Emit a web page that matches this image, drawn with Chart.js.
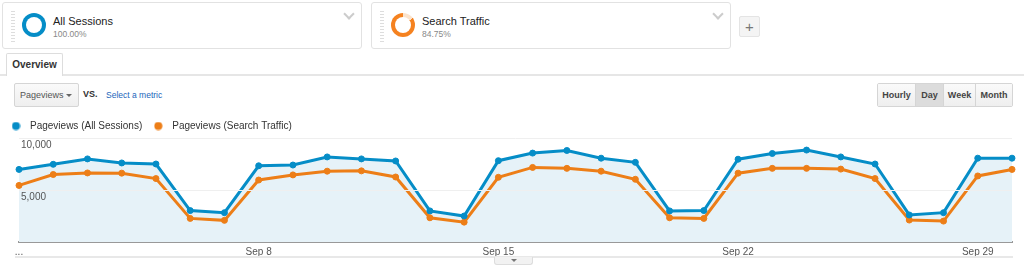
<!DOCTYPE html>
<html>
<head>
<meta charset="utf-8">
<script src="https://cdn.jsdelivr.net/npm/chart.js@4.4.1/dist/chart.umd.min.js"></script>
<style>
    html, body { margin: 0; padding: 0; background: #fff; }
    body { width: 1024px; height: 272px; position: relative; overflow: hidden;
           font-family: "Liberation Sans", Arial, sans-serif; color: #333; }
    .seg { position: absolute; top: 2px; width: 358px; height: 45px; border: 1px solid #e2e2e2;
           border-radius: 3px; background: #fff; }
    .seg .handle { position: absolute; left: 8px; top: 8px; width: 4px; height: 33px;
           background: repeating-linear-gradient(to bottom, #ddd 0 1px, transparent 1px 3px); }
    .seg .ring { position: absolute; left: 19px; top: 10px; width: 24px; height: 24px; border-radius: 50%; }
    .seg .ring::after { content: ''; position: absolute; left: 4px; top: 4px; width: 16px; height: 16px;
           border-radius: 50%; background: #fff; }
    .seg .name { position: absolute; left: 50px; top: 12px; font-size: 11px; color: #222; }
    .seg .pct { position: absolute; left: 50px; top: 26px; font-size: 8.5px; color: #888; }
    .seg .chev { position: absolute; right: 8px; top: 7px; width: 6px; height: 6px;
           border-right: 2px solid #ccc; border-bottom: 2px solid #ccc; transform: rotate(45deg); }
    .plus { position: absolute; left: 739px; top: 16px; width: 21px; height: 21px; background: #f4f4f4;
           border: 1px solid #e4e4e4; border-radius: 2px; color: #777; font-size: 15px; line-height: 19px;
           text-align: center; box-sizing: border-box; }
    .tabline { position: absolute; left: 0; top: 74px; width: 1024px; height: 2px; background: #e6e6e6; }
    .tab { position: absolute; left: 6px; top: 53px; width: 57px; height: 23px; box-sizing: border-box;
           border: 1px solid #ddd; border-bottom: none; background: #fff; border-radius: 2px 2px 0 0;
           font-size: 10px; font-weight: bold; color: #333; text-align: center; line-height: 21px; }
    .dd { position: absolute; left: 14px; top: 83px; width: 65px; height: 24px; box-sizing: border-box;
           border: 1px solid #d5d5d5; border-radius: 2px; background: linear-gradient(#fafafa, #efefef);
           font-size: 9px; color: #555; line-height: 22px; padding-left: 5px; }
    .dd .caret { position: absolute; right: 6px; top: 10px; border-left: 3px solid transparent;
           border-right: 3px solid transparent; border-top: 3px solid #666; }
    .vs { position: absolute; left: 83px; top: 89px; font-size: 9px; font-weight: bold; color: #333; }
    .metric { position: absolute; left: 106px; top: 90px; font-size: 8.5px; color: #2266bb; }
    .btns { position: absolute; left: 877px; top: 83px; width: 136px; height: 24px; display: flex;
           box-sizing: border-box; border: 1px solid #d5d5d5; border-radius: 2px; overflow: hidden; }
    .btns div { box-sizing: border-box; font-size: 9px; font-weight: bold; color: #444; line-height: 22px;
           text-align: center; background: linear-gradient(#fafafa, #efefef); border-left: 1px solid #d5d5d5; }
    .btns div:first-child { border-left: none; }
    .btns div.on { background: #dcdcdc; }
    .chart-wrap { position: absolute; left: 0; top: 114px; width: 1024px; height: 148px; }
    .bottomline { position: absolute; left: 15px; top: 256px; width: 998px; height: 2px; background: #e8e8e8; }
    .pull { position: absolute; left: 494px; top: 257px; width: 39px; height: 8px; box-sizing: border-box;
           border: 1px solid #ddd; border-top: none; background: #f2f2f2; border-radius: 0 0 3px 3px; }
    .pull::after { content: ''; position: absolute; left: 16px; top: 2px; border-left: 3px solid transparent;
           border-right: 3px solid transparent; border-top: 3px solid #777; }
</style>
</head>
<body>
    <div class="seg" style="left:2px">
        <div class="handle"></div>
        <div class="ring" style="background:#058dc7"></div>
        <div class="name">All Sessions</div>
        <div class="pct">100.00%</div>
        <div class="chev"></div>
    </div>
    <div class="seg" style="left:371px">
        <div class="handle"></div>
        <div class="ring" style="background:conic-gradient(#fbe3cc 0 15.25%, #f58220 0)"></div>
        <div class="name">Search Traffic</div>
        <div class="pct">84.75%</div>
        <div class="chev"></div>
    </div>
    <div class="plus">+</div>
    <div class="tabline"></div>
    <div class="tab">Overview</div>

    <div class="dd">Pageviews<span class="caret"></span></div>
    <div class="vs">VS.</div>
    <div class="metric">Select a metric</div>
    <div class="btns">
        <div style="width:37px">Hourly</div>
        <div class="on" style="width:28px">Day</div>
        <div style="width:32px">Week</div>
        <div style="width:37px">Month</div>
    </div>

    <div class="chart-wrap"><canvas id="pageviewsChart"></canvas></div>
    <div class="bottomline"></div>
    <div class="pull"></div>

<script>
    // September, one point per day
    const days = ['Sep 1', 'Sep 2', 'Sep 3', 'Sep 4', 'Sep 5', 'Sep 6', 'Sep 7', 'Sep 8', 'Sep 9', 'Sep 10',
        'Sep 11', 'Sep 12', 'Sep 13', 'Sep 14', 'Sep 15', 'Sep 16', 'Sep 17', 'Sep 18', 'Sep 19', 'Sep 20',
        'Sep 21', 'Sep 22', 'Sep 23', 'Sep 24', 'Sep 25', 'Sep 26', 'Sep 27', 'Sep 28', 'Sep 29', 'Sep 30'];

    const allSessions = [6980, 7470, 7990, 7600, 7500, 3020, 2820, 7330, 7400, 8180,
        7990, 7790, 2990, 2500, 7820, 8550, 8800, 8060, 7660, 2990,
        3020, 7960, 8510, 8840, 8180, 7500, 2600, 2820, 8060, 8060];

    const searchTraffic = [5440, 6490, 6640, 6620, 6100, 2270, 2080, 5960, 6450, 6810,
        6840, 6250, 2330, 1910, 6220, 7170, 7080, 6810, 6030, 2330,
        2270, 6620, 7080, 7080, 7010, 6100, 2110, 2010, 6350, 6980];

    const xTickIndex = [0, 7, 14, 21, 28];
    const xTickText = ['...', 'Sep 8', 'Sep 15', 'Sep 22', 'Sep 29'];
    const yTicks = [5000, 10000];

    const FONT = '"Liberation Sans", Arial, sans-serif';
    const BLUE = '#058dc7';
    const ORANGE = '#ed7e17';

    // small round legend marker, so the legend can keep a wider box than the dot itself
    function makeDot(color) {
        const c = document.createElement('canvas');
        c.width = 9;
        c.height = 9;
        const g = c.getContext('2d');
        g.fillStyle = color;
        g.beginPath();
        g.arc(4.5, 4.5, 4, 0, Math.PI * 2);
        g.fill();
        return c;
    }
    const legendDots = [makeDot(BLUE), makeDot(ORANGE)];

    // keep the legend row a fixed height so the plot top sits on the 10,000 line
    const legendHeight = {
        id: 'legendHeight',
        beforeInit: function(chart) {
            const fit = chart.legend.fit;
            chart.legend.fit = function() {
                fit.bind(chart.legend)();
                this.height = 24;
            };
        }
    };

    const ctx = document.getElementById('pageviewsChart').getContext('2d');
    new Chart(ctx, {
        type: 'line',
        data: {
            labels: days,
            datasets: [{
                label: 'Pageviews (All Sessions)',
                data: allSessions,
                borderColor: BLUE,
                backgroundColor: '#e6f2f8',
                fill: 'origin',
                borderWidth: 3,
                tension: 0,
                pointRadius: 3,
                pointBorderWidth: 1,
                pointBackgroundColor: BLUE,
                pointBorderColor: BLUE
            }, {
                label: 'Pageviews (Search Traffic)',
                data: searchTraffic,
                borderColor: ORANGE,
                backgroundColor: ORANGE,
                fill: false,
                borderWidth: 3,
                tension: 0,
                pointRadius: 3,
                pointBorderWidth: 1,
                pointBackgroundColor: ORANGE,
                pointBorderColor: ORANGE
            }]
        },
        options: {
            responsive: true,
            maintainAspectRatio: false,
            animation: false,
            layout: { padding: { left: 0, right: 12, top: 0, bottom: 0 } },
            plugins: {
                filler: { drawTime: 'beforeDatasetsDraw' },
                tooltip: { enabled: false },
                legend: {
                    position: 'top',
                    align: 'start',
                    labels: {
                        usePointStyle: true,
                        pointStyleWidth: 18,
                        boxHeight: 6,
                        padding: 7,
                        color: '#333',
                        font: { family: FONT, size: 10 },
                        generateLabels: function(chart) {
                            return Chart.defaults.plugins.legend.labels.generateLabels(chart).map(function(item, i) {
                                item.pointStyle = legendDots[i];
                                item.lineWidth = 0;
                                return item;
                            });
                        }
                    }
                }
            },
            scales: {
                x: {
                    offset: false,
                    grid: { display: false, drawTicks: false },
                    border: { display: true, color: '#999', width: 2 },
                    ticks: {
                        autoSkip: false,
                        maxRotation: 0,
                        padding: 4,
                        color: '#555',
                        font: { family: FONT, size: 10 },
                        callback: function(value, index) {
                            const k = xTickIndex.indexOf(index);
                            return k >= 0 ? xTickText[k] : '';
                        }
                    }
                },
                y: {
                    min: 0,
                    max: yTicks[yTicks.length - 1],
                    afterFit: function(scale) { scale.width = 19; },
                    afterBuildTicks: function(scale) {
                        scale.ticks = [0].concat(yTicks).map(function(v) { return { value: v }; });
                    },
                    grid: {
                        z: 1,
                        drawTicks: false,
                        color: function(c) { return c.tick && c.tick.value === 0 ? 'rgba(0,0,0,0)' : '#efefef'; }
                    },
                    border: { display: false },
                    ticks: {
                        z: 1,
                        mirror: true,
                        padding: 2,
                        labelOffset: 7,
                        color: '#555',
                        font: { family: FONT, size: 10 },
                        callback: function(value) {
                            return value === 0 ? '' : value.toLocaleString('en-US');
                        }
                    }
                }
            }
        },
        plugins: [legendHeight]
    });
</script>
</body>
</html>
